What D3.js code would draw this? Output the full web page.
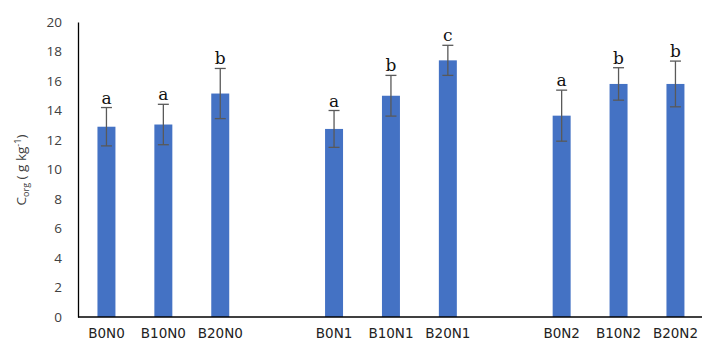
<!DOCTYPE html>
<html><head><meta charset="utf-8">
<script src="https://cdn.jsdelivr.net/npm/d3@7"></script>
<style>body{margin:0;background:#fff}</style>
</head><body>
<script>
const categories = ["B0N0","B10N0","B20N0","_g1","B0N1","B10N1","B20N1","_g2","B0N2","B10N2","B20N2"];
const values = [12.9, 13.05, 15.15, null, 12.75, 15.0, 17.4, null, 13.65, 15.8, 15.8];
const errors = [1.3, 1.37, 1.7, null, 1.25, 1.38, 1.02, null, 1.73, 1.1, 1.55];
const letters = ["a","a","b",null,"a","b","c",null,"a","b","b"];
const yTicks = [0,2,4,6,8,10,12,14,16,18,20];

const W = 702, H = 347;
const svg = d3.select("body").append("svg").attr("width",W).attr("height",H);

const x = d3.scaleBand().domain(categories).range([78, 78 + 11*56.9]).paddingInner(0.684).paddingOuter(0.342);
const y = d3.scaleLinear().domain([0,20]).range([317, 22]);

const data = categories.map((c,i)=>({c, v:values[i], e:errors[i], l:letters[i]})).filter(d=>d.v!=null);
svg.selectAll("rect.bar").data(data).enter().append("rect")
  .attr("x", d=>x(d.c)).attr("width", x.bandwidth())
  .attr("y", d=>y(d.v)).attr("height", d=>y(0)-y(d.v))
  .attr("fill","#4472C4");

const eg = svg.selectAll("g.err").data(data).enter().append("g").attr("stroke","#595959").attr("stroke-width",1.3);
eg.append("line").attr("x1",d=>x(d.c)+x.bandwidth()/2).attr("x2",d=>x(d.c)+x.bandwidth()/2)
  .attr("y1",d=>y(d.v+d.e)).attr("y2",d=>y(d.v-d.e));
eg.append("line").attr("x1",d=>x(d.c)+x.bandwidth()/2-5.5).attr("x2",d=>x(d.c)+x.bandwidth()/2+5.5)
  .attr("y1",d=>y(d.v+d.e)).attr("y2",d=>y(d.v+d.e));
eg.append("line").attr("x1",d=>x(d.c)+x.bandwidth()/2-5.5).attr("x2",d=>x(d.c)+x.bandwidth()/2+5.5)
  .attr("y1",d=>y(d.v-d.e)).attr("y2",d=>y(d.v-d.e));

svg.selectAll("text.let").data(data).enter().append("text")
  .attr("x",d=>x(d.c)+x.bandwidth()/2).attr("y",d=>y(d.v+d.e)-4)
  .attr("text-anchor","middle").attr("font-family","'DejaVu Serif', 'Liberation Serif', serif")
  .attr("font-size",17).attr("fill","#111").text(d=>d.l);

const ya = svg.append("g").attr("transform","translate(78,0)")
  .call(d3.axisLeft(y).tickValues(yTicks).tickSize(0).tickPadding(16));
ya.select(".domain").attr("stroke","#000").attr("stroke-width",1.3);
ya.selectAll("text").attr("font-family","'Open Sans', sans-serif").attr("font-size",13.5).attr("fill","#404040");

const xa = svg.append("g").attr("transform","translate(0,317)")
  .call(d3.axisBottom(x).tickSize(0).tickPadding(11).tickFormat(d=>d.startsWith("_")?"":d));
xa.select(".domain").attr("stroke","#000").attr("stroke-width",1.3).attr("d","M78,0H702");
xa.selectAll("text").attr("font-family","'DejaVu Sans', Verdana, sans-serif").attr("font-size",13.5).attr("fill","#222");

const yl = svg.append("text").attr("transform","translate(26,170) rotate(-90)")
  .attr("text-anchor","middle").attr("font-family","'Open Sans', sans-serif").attr("font-size",13.5).attr("fill","#404040")
  .attr("xml:space","preserve").style("white-space","pre");
yl.append("tspan").text("C");
yl.append("tspan").attr("font-size",9).attr("dy",3).text("org");
yl.append("tspan").attr("dy",-3).text(" ( g kg");
yl.append("tspan").attr("font-size",9).attr("dy",-5).text("-1");
yl.append("tspan").attr("dy",5).text(")");
</script>
</body></html>
